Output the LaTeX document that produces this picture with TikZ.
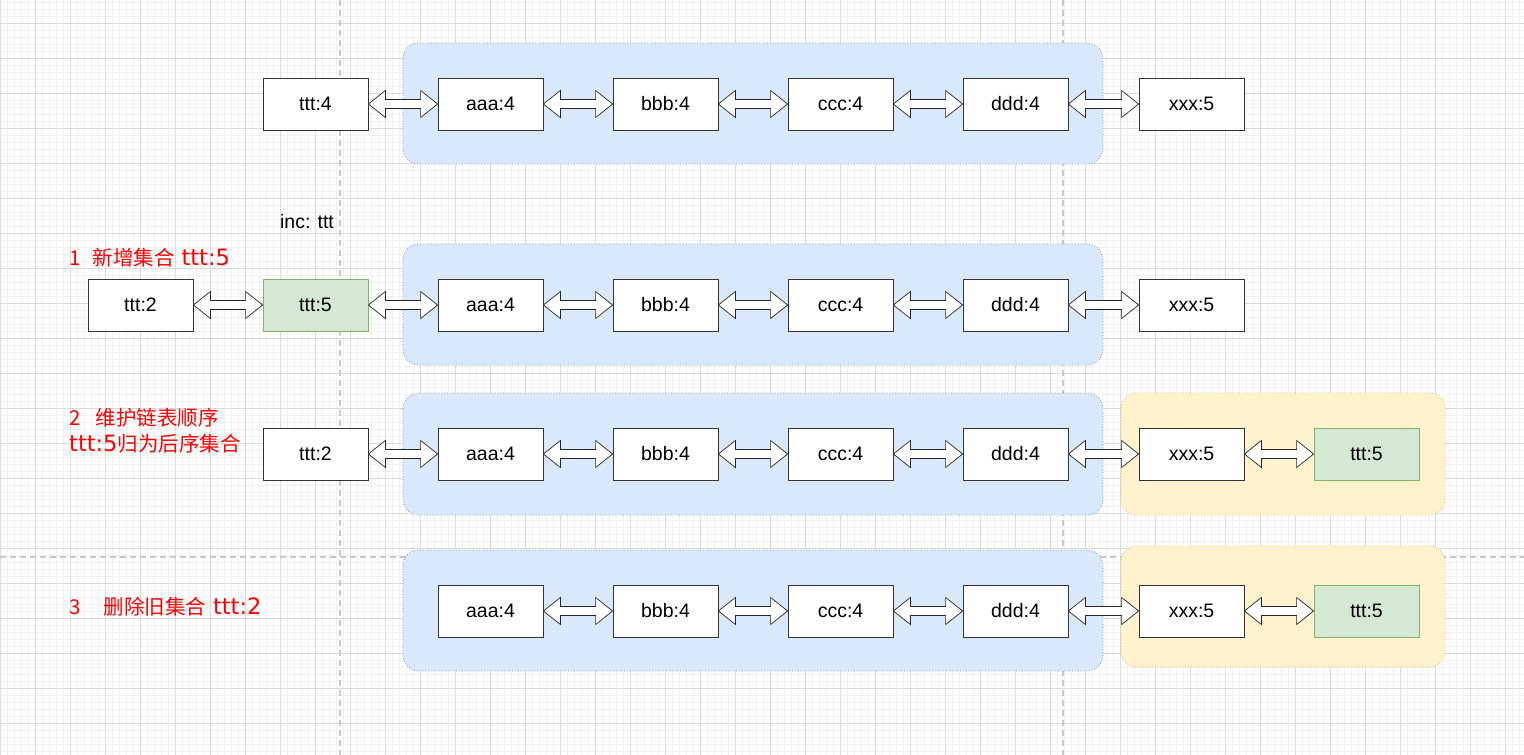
\documentclass[tikz,border=0pt]{standalone}
\usepackage{fontspec}
\setmainfont{Liberation Sans}
\newfontfamily\cjk{Noto Sans CJK SC}
\newfontfamily\redlatinfont{DejaVu Sans}
\newcommand{\redlatin}{\redlatinfont\fontsize{22.5}{26}\selectfont}
\usetikzlibrary{calc}
\usepackage{xcolor}
\definecolor{GridMinor}{HTML}{F1F1F1}
\definecolor{GridMajor}{HTML}{DADADA}
\definecolor{PageLine}{HTML}{C8C8C8}
\definecolor{GroupBlueFill}{HTML}{DAE8FC}
\definecolor{GroupBlueLine}{HTML}{6C8EBF}
\definecolor{GroupYellowFill}{HTML}{FFF2CC}
\definecolor{GroupYellowLine}{HTML}{D6B656}
\definecolor{NewFill}{HTML}{D5E8D4}
\definecolor{NewLine}{HTML}{82B366}
\definecolor{NoteRed}{HTML}{FF0000}
\tikzset{
    % Grid styles
    gridminor/.style={
        draw=GridMinor,
        line width=0.8pt
    },
    gridmajor/.style={
        draw=GridMajor,
        line width=0.8pt
    },
    pageline/.style={
        draw=PageLine,
        line width=1.6pt,
        dash pattern=on 6pt off 4pt
    },
    % Group styles - rounded, dotted border
    bluegroup/.style={
        draw=GroupBlueLine,
        fill=GroupBlueFill,
        dotted,
        line width=0.8pt,
        rounded corners=16pt
    },
    yellowgroup/.style={
        draw=GroupYellowLine,
        fill=GroupYellowFill,
        dotted,
        line width=0.8pt,
        rounded corners=16pt
    },
    % Box styles - sharp corners
    item/.style={
        rectangle,
        draw=black!80,
        fill=white,
        line width=0.8pt,
        minimum width=105pt,
        minimum height=52pt,
        inner sep=0pt,
        font=\fontsize{19.5}{23}\selectfont
    },
    newitem/.style={
        item,
        draw=NewLine,
        fill=NewFill
    },
    note/.style={
        text=NoteRed,
        align=left,
        inner sep=0pt,
        font=\cjk\fontsize{20.5}{26}\selectfont
    },
    plain/.style={
        inner sep=0pt,
        font=\fontsize{19.5}{23}\selectfont
    },
    % Arrow style - hollow double-headed arrow
    dblarrow/.style={
        draw=black!85,
        fill=white,
        line width=0.7pt,
        line join=miter,
        to path={
            let \p1=(\tikztostart), \p2=(\tikztotarget) in
            (\p1) -- (\x1+17pt,\y1+13.5pt) -- (\x1+17pt,\y1+4.5pt)
            -- (\x2-17pt,\y2+4.5pt) -- (\x2-17pt,\y2+13.5pt) -- (\p2)
            -- (\x2-17pt,\y2-13.5pt) -- (\x2-17pt,\y2-4.5pt)
            -- (\x1+17pt,\y1-4.5pt) -- (\x1+17pt,\y1-13.5pt) -- cycle
        }
    }
}

\begin{document}
\begin{tikzpicture}[x=1pt, y=-1pt]
    \useasboundingbox (0,0) rectangle (1524,755);

    % background grid
    \fill[white] (0,0) rectangle (1524,755);
    \foreach \gx in {0,7,...,1524} \draw[gridminor] (\gx,0) -- (\gx,755);
    \foreach \gy in {2,9,...,755} \draw[gridminor] (0,\gy) -- (1524,\gy);
    \foreach \gx in {0,35,...,1524} \draw[gridmajor] (\gx,0) -- (\gx,755);
    \foreach \gy in {23,58,...,755} \draw[gridmajor] (0,\gy) -- (1524,\gy);
    \draw[pageline] (340,0) -- (340,755);
    \draw[pageline] (1063,0) -- (1063,755);
    \draw[pageline] (0,557) -- (1524,557);

    % groups
    \draw[bluegroup] (403,43) rectangle (1103,164);
    \draw[bluegroup] (403,244) rectangle (1103,365);
    \draw[bluegroup] (403,393) rectangle (1103,515);
    \draw[yellowgroup] (1121,393) rectangle (1445,515);
    \draw[bluegroup] (403,550) rectangle (1103,671);
    \draw[yellowgroup] (1121,546) rectangle (1445,667);

    % row 1: before
    \node[item] (t1) at (315.5,104) {ttt:4};
    \node[item] (a1) at (490.5,104) {aaa:4};
    \node[item] (b1) at (665.5,104) {bbb:4};
    \node[item] (c1) at (840.5,104) {ccc:4};
    \node[item] (d1) at (1015.5,104) {ddd:4};
    \node[item] (x1) at (1191.5,104) {xxx:5};

    \draw[dblarrow] (t1.east) to (a1.west);
    \draw[dblarrow] (a1.east) to (b1.west);
    \draw[dblarrow] (b1.east) to (c1.west);
    \draw[dblarrow] (c1.east) to (d1.west);
    \draw[dblarrow] (d1.east) to (x1.west);

    % row 2: new set
    \node[plain] (inc) at (307,222) {inc: ttt};
    \node[note, anchor=west] (step1) at (69,258) {1\hspace{12pt}新增集合\hspace{7pt}{\redlatin ttt:5}};

    \node[item] (old2) at (140.5,305) {ttt:2};
    \node[newitem] (t2) at (315.5,305) {ttt:5};
    \node[item] (a2) at (490.5,305) {aaa:4};
    \node[item] (b2) at (665.5,305) {bbb:4};
    \node[item] (c2) at (840.5,305) {ccc:4};
    \node[item] (d2) at (1015.5,305) {ddd:4};
    \node[item] (x2) at (1191.5,305) {xxx:5};

    \draw[dblarrow] (old2.east) to (t2.west);
    \draw[dblarrow] (t2.east) to (a2.west);
    \draw[dblarrow] (a2.east) to (b2.west);
    \draw[dblarrow] (b2.east) to (c2.west);
    \draw[dblarrow] (c2.east) to (d2.west);
    \draw[dblarrow] (d2.east) to (x2.west);

    % row 3: reorder
    \node[note, anchor=west] (step2) at (69,431) {2\hspace{15pt}维护链表顺序\\{\redlatin ttt:5}归为后序集合};

    \node[item] (old3) at (315.5,454) {ttt:2};
    \node[item] (a3) at (490.5,454) {aaa:4};
    \node[item] (b3) at (665.5,454) {bbb:4};
    \node[item] (c3) at (840.5,454) {ccc:4};
    \node[item] (d3) at (1015.5,454) {ddd:4};
    \node[item] (x3) at (1191.5,454) {xxx:5};
    \node[newitem] (t3) at (1366.5,454) {ttt:5};

    \draw[dblarrow] (old3.east) to (a3.west);
    \draw[dblarrow] (a3.east) to (b3.west);
    \draw[dblarrow] (b3.east) to (c3.west);
    \draw[dblarrow] (c3.east) to (d3.west);
    \draw[dblarrow] (d3.east) to (x3.west);
    \draw[dblarrow] (x3.east) to (t3.west);

    % row 4: drop old set
    \node[note, anchor=west] (step3) at (69,607) {3\hspace{23pt}删除旧集合\hspace{7pt}{\redlatin ttt:2}};

    \node[item] (a4) at (490.5,611) {aaa:4};
    \node[item] (b4) at (665.5,611) {bbb:4};
    \node[item] (c4) at (840.5,611) {ccc:4};
    \node[item] (d4) at (1015.5,611) {ddd:4};
    \node[item] (x4) at (1191.5,611) {xxx:5};
    \node[newitem] (t4) at (1366.5,611) {ttt:5};

    \draw[dblarrow] (a4.east) to (b4.west);
    \draw[dblarrow] (b4.east) to (c4.west);
    \draw[dblarrow] (c4.east) to (d4.west);
    \draw[dblarrow] (d4.east) to (x4.west);
    \draw[dblarrow] (x4.east) to (t4.west);
\end{tikzpicture}
\end{document}
